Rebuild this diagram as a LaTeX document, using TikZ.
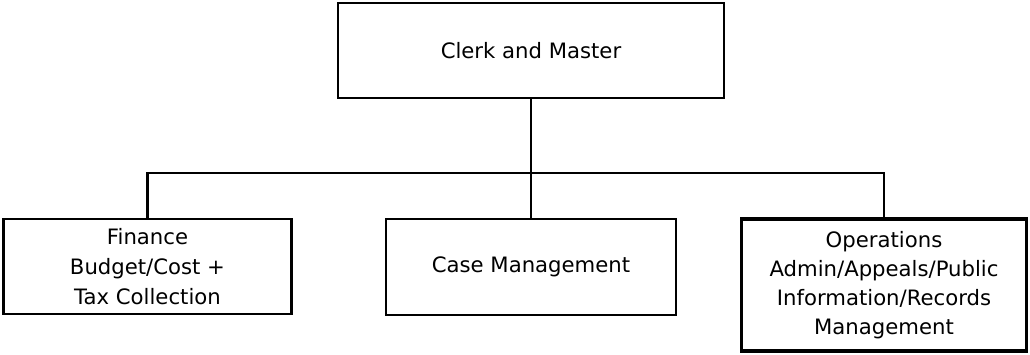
\documentclass[tikz,border=0pt]{standalone}
\usepackage{fontspec}
\setmainfont{DejaVu Sans}
\begin{document}
\begin{tikzpicture}[x=1pt,y=1pt,
  orgbox/.style={draw=black,line width=2.6pt,fill=white,align=center,inner sep=0pt,
    font=\fontsize{21.2}{29}\selectfont,text=black},
  link/.style={draw=black,line width=2.6pt}]
\useasboundingbox (0,0) rectangle (1030,-354);
\node[orgbox,minimum width=386,minimum height=95] (top) at (531,-50.5) {Clerk and Master};
\node[orgbox,minimum width=288,minimum height=95,font=\fontsize{21.2}{30}\selectfont] (fin) at (147.5,-266.5) {Finance\\Budget/Cost +\\Tax Collection};
\node[orgbox,minimum width=290,minimum height=96] (cm) at (531,-267) {Case Management};
\node[orgbox,line width=3.6pt,minimum width=285,minimum height=132] (ops) at (884,-285) {Operations\\Admin/Appeals/Public\\Information/Records\\Management};
\coordinate (bus) at (0,-173);
\draw[link] (top.south) -- (cm.north);
\draw[link] (fin.north) -- (fin.north |- bus) -- (ops.north |- bus) -- (ops.north);
\end{tikzpicture}
\end{document}
